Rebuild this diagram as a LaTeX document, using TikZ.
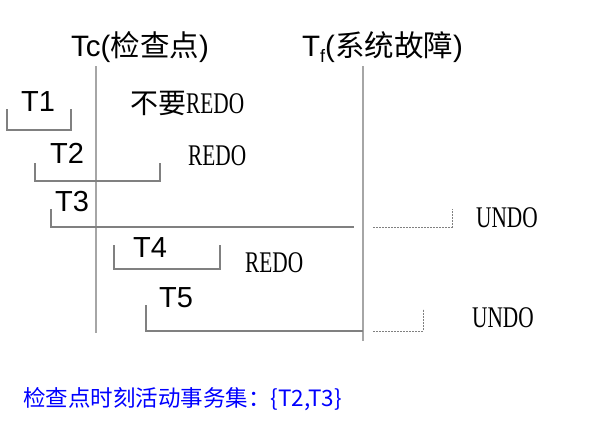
\documentclass[tikz,border=0pt]{standalone}
\usepackage{fontspec}
\setmainfont{Liberation Sans}
\newfontfamily\cjkfont{Noto Sans CJK SC}
\newfontfamily\songfont[FakeStretch=0.71]{Liberation Serif}
\usetikzlibrary{positioning}

\tikzset{
  txn/.style={anchor=base west, inner sep=0pt, font=\fontsize{29}{29}\selectfont},
  ops/.style={anchor=base west, inner sep=0pt, font=\songfont\fontsize{30}{30}\selectfont},
  bracket/.style={draw=gray, line width=1.2pt},
  dotbracket/.style={draw=gray, line width=1pt, dash pattern=on 2pt off 1pt},
  timeline/.style={draw=gray!70, line width=1.8pt}
}

\begin{document}
\begin{tikzpicture}[x=1pt,y=-1pt]
    \useasboundingbox (0,0) rectangle (589,421);

    % Checkpoint and failure
    \node[txn, font=\fontsize{29.5}{29.5}\selectfont] (tc) at (71,56) {Tc({\cjkfont 检查点})};
    \node[txn, font=\fontsize{29.5}{29.5}\selectfont] (tf) at (302,56)
        {T\raisebox{-6pt}{\fontsize{18}{18}\selectfont f}({\cjkfont 系统故障})};
    \coordinate (tc top) at (96,66);
    \coordinate (tc bot) at (96,333);
    \coordinate (tf top) at (363,66);
    \coordinate (tf bot) at (363,341);
    \draw[timeline] (tc top) -- (tc bot);
    \draw[timeline] (tf top) -- (tf bot);

    % Transactions
    \node[txn] (t1) at (21,111) {T1};
    \draw[bracket] (7,109) |- (71,130) -- (71,109);
    \node[txn] (t2) at (50,163) {T2};
    \draw[bracket] (35,163) |- (160,181) -- (160,163);
    \node[txn] (t3) at (55,211) {T3};
    \draw[bracket] (51,209) |- (354,227);
    \draw[dotbracket] (373,227) -| (452,209);
    \node[txn] (t4) at (133,257) {T4};
    \draw[bracket] (114,245) |- (220,269) -- (220,245);
    \node[txn] (t5) at (159,307) {T5};
    \draw[bracket] (146,305) |- (363,331);
    \draw[dotbracket] (373,331) -| (423,309);

    % Recovery actions
    \node[ops] (noredo) at (130,113) {{\cjkfont\fontsize{28}{28}\selectfont 不要}REDO};
    \node[ops] (redo2) at (188,165) {REDO};
    \node[ops] (redo4) at (245,272) {REDO};
    \node[ops] (undo3) at (476,227) {UNDO};
    \node[ops] (undo5) at (472,327) {UNDO};

    % Active set
    \node[anchor=west, inner sep=0pt, text=blue, font=\cjkfont\fontsize{22.5}{22.5}\selectfont]
        (active) at (23,399) {检查点时刻活动事务集：\{T2,T3\}};
\end{tikzpicture}
\end{document}
